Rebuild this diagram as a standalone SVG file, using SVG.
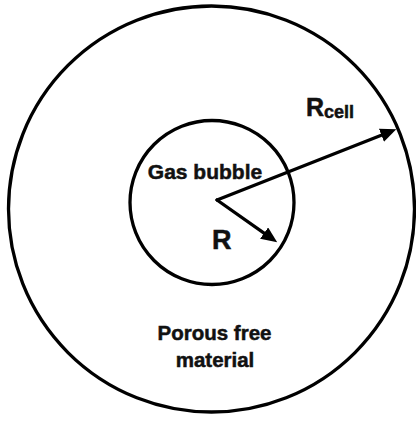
<svg xmlns="http://www.w3.org/2000/svg" width="416" height="423" viewBox="0 0 416 423">
<style>
.ring{fill:none;stroke:#000;stroke-width:3.3}
.lbl{font-family:"Liberation Sans",Arial,sans-serif;font-weight:bold;fill:#111;stroke:#111;stroke-width:0.5}
.conn{stroke:#000;stroke-width:3.3;stroke-linecap:round;fill:none}
</style>
<defs>
<marker id="ah" markerUnits="userSpaceOnUse" markerWidth="18" markerHeight="16" refX="6" refY="7" orient="auto">
<path d="M0,0 L16,7 L0,14 z" fill="#000"/>
</marker>
</defs>
<rect width="416" height="423" fill="#fff"/>
<g id="cell">
<circle class="ring" cx="211.5" cy="209" r="203"/>
<text class="lbl" x="214.5" y="340" font-size="20.5" text-anchor="middle">Porous free</text>
<text class="lbl" x="215" y="367" font-size="20.5" text-anchor="middle">material</text>
</g>
<g id="bubble">
<circle class="ring" cx="212" cy="202.5" r="82"/>
<text class="lbl" x="205" y="179" font-size="21" text-anchor="middle">Gas bubble</text>
</g>
<g id="connectors">
<line class="conn" x1="217" y1="200" x2="269" y2="236.6" marker-end="url(#ah)"/>
<line class="conn" x1="217" y1="200" x2="387" y2="133" marker-end="url(#ah)"/>
</g>
<g id="labels">
<text class="lbl" x="212" y="249" font-size="27">R</text>
<text class="lbl" x="306" y="116" font-size="25">R<tspan font-size="18" dy="2">cell</tspan></text>
</g>
</svg>
